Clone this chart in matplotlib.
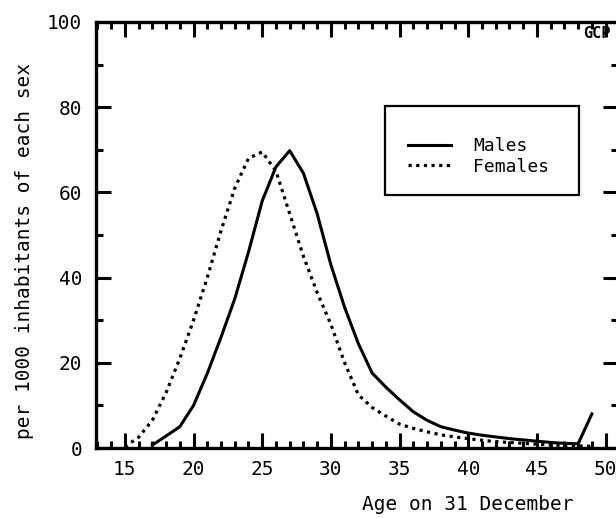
import matplotlib
matplotlib.use("Agg")
import matplotlib.pyplot as plt
from matplotlib.patches import Rectangle
from matplotlib.ticker import MultipleLocator

plt.rcParams['font.family'] = ['DejaVu Sans Mono']

# age-specific first-marriage rates per 1000, by single year of age
male_ages = list(range(17, 50))
males = [0.7, 2.8, 5, 10, 17.5, 26, 35, 46, 58, 66, 69.8, 64.5, 55, 43, 33,
         24.5, 17.6, 14.3, 11.3, 8.5, 6.5, 5, 4.2, 3.5, 3, 2.6, 2.2, 1.9,
         1.6, 1.3, 1.1, 1.0, 8.0]
female_ages = list(range(15, 50))
females = [0.3, 2.5, 6.5, 13, 21, 30, 40, 51, 61, 68, 69.5, 65, 55, 45, 36.5,
           29, 20, 12.5, 9.5, 7.5, 5.6, 4.6, 3.8, 3.1, 2.6, 2.2, 1.8, 1.5,
           1.3, 1.1, 0.9, 0.7, 0.6, 0.5, 0.4]
xticks = [15, 20, 25, 30, 35, 40, 45, 50]
yticks = [0, 20, 40, 60, 80, 100]

fig = plt.figure(figsize=(6.16, 5.18), dpi=100)
ax = fig.add_axes([96/616, 70/518, 522/616, 426/518])

ax.plot(male_ages, males, color='black', lw=2.2, label='Males')
ax.plot(female_ages, females, color='black', lw=2.3, linestyle=(0, (1, 1.4)),
        label='Females')

ax.set_xlim(12.9, 50.9)
ax.set_ylim(0, 100)
ax.set_xticks(xticks)
ax.set_yticks(yticks)
ax.xaxis.set_minor_locator(MultipleLocator(1))
ax.yaxis.set_minor_locator(MultipleLocator(10))
ax.tick_params(which='both', direction='in', top=True, right=True,
               width=2.2, labelsize=14)
ax.tick_params(which='major', length=11)
ax.tick_params(which='minor', length=5)
ax.tick_params(axis='x', pad=8.5)
ax.tick_params(axis='y', pad=10)
for s in ax.spines.values():
    s.set_linewidth(2.4)

ax.set_xlabel('Age on 31 December', fontsize=14)
ax.xaxis.set_label_coords(0.713, -0.11)
ax.set_ylabel('per 1000 inhabitants of each sex', fontsize=14)
ax.yaxis.set_label_coords(-0.118, 0.462)

# legend box
ax.add_patch(Rectangle((0.554, 0.594), 0.371, 0.209, transform=ax.transAxes,
                       fill=False, lw=1.6, edgecolor='black', zorder=5))
ax.legend(loc='center left', bbox_to_anchor=(0.598, 0.685), frameon=False,
          fontsize=13, borderpad=0, borderaxespad=0, handlelength=2.4,
          handletextpad=1.2, labelspacing=0.15)

fig.text(583/616, 1 - 34/518, 'GCP', fontsize=11, fontweight='bold',
         va='center', ha='left')

fig.savefig('out.png', dpi=100)
